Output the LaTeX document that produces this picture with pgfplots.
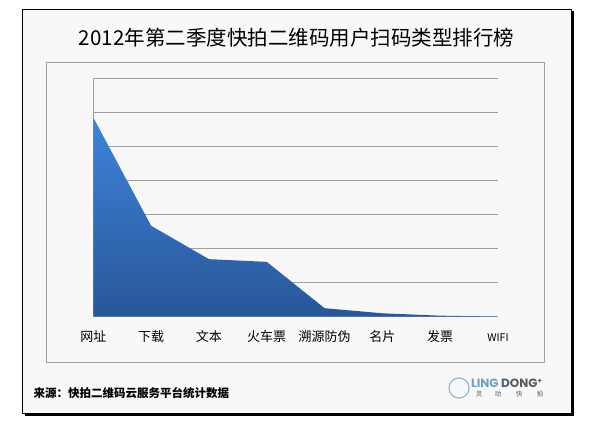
\documentclass[border=0pt]{standalone}
\usepackage{pgfplots}
\pgfplotsset{compat=1.18}
\usepackage{fontspec}
\newfontfamily\cjk{Noto Sans CJK SC}
\newfontfamily\logofont{Poppins}
\definecolor{fillTop}{RGB}{62,132,218}
\definecolor{fillBot}{RGB}{40,86,152}
\definecolor{gridc}{RGB}{160,160,160}
\definecolor{bgc}{RGB}{248,248,248}
\definecolor{logoblue}{RGB}{110,160,200}
\definecolor{logogray}{RGB}{85,92,100}
\begin{document}
\begin{tikzpicture}[x=1pt,y=1pt]
\fill[white] (0,0) rectangle (600,428);
% shadow
\draw[black, line width=2.2pt] (573.2,417) -- (573.2,12.6) -- (25,12.6);
\filldraw[fill=bgc, draw=black, line width=0.8pt] (22.7,15) rectangle (571,419);
\draw[gridc, line width=1pt] (46.7,65.5) rectangle (544.5,365.3);
\node[font=\cjk\fontsize{20.5}{22}\selectfont, text=black] at (296.5,390) {2012年第二季度快拍二维码用户扫码类型排行榜};
\begin{axis}[at={(93.3pt,111.3pt)}, anchor=origin, scale only axis,
  width=404.7pt, height=238.4pt,
  xmin=0, xmax=7, ymin=0, ymax=7, enlargelimits=false,
  axis lines*=left, axis line style={draw=gridc, line width=0.9pt, -},
  ytick={1,...,7}, yticklabels={}, ymajorgrids,
  grid style={draw=gridc, line width=0.9pt},
  xtick={0,...,7}, xticklabels={网址,下载,文本,火车票,溯源防伪,名片,发票,{\fontsize{10.5}{10.5}\selectfont WIFI}},
  major tick length=0pt,
  xticklabel style={font=\cjk\fontsize{13}{13}\selectfont, anchor=base, yshift=-25pt},
  clip=false]
\addplot[draw=none, top color=fillTop, bottom color=fillBot]
  coordinates {(0,5.85) (1,2.67) (2,1.69) (3,1.61) (4,0.25) (5,0.10) (6,0.03) (7,0.005)} \closedcycle;
\end{axis}
\node[anchor=west, font=\cjk\bfseries\fontsize{11.5}{12}\selectfont] at (30,35) {来源：快拍二维码云服务平台统计数据};
% logo
\draw[logoblue!70, line width=1.3pt] (459,40) circle (10);
\node[anchor=west, inner sep=0pt, font=\logofont\bfseries\fontsize{12}{12}\selectfont] at (471,45) {\textcolor{logoblue}{LING} \textcolor{logogray}{DONG}\textcolor{logogray}{\raisebox{4pt}{\fontsize{7}{7}\selectfont +}}};
\foreach \xx/\cc in {479/灵,498/动,519/快,540/拍}
  \node[font=\cjk\fontsize{6.5}{7}\selectfont, text=logogray] at (\xx,34) {\cc};
\end{tikzpicture}
\end{document}
